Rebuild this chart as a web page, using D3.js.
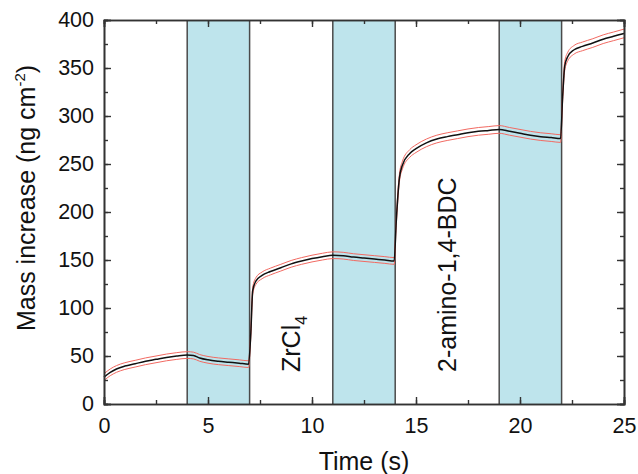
<!DOCTYPE html>
<html>
<head>
<meta charset="utf-8">
<script src="https://cdn.jsdelivr.net/npm/d3@7"></script>
<style>
  body { margin: 0; background: #fff; }
  text { font-family: "Liberation Sans", Arial, sans-serif; fill: #111; }
</style>
</head>
<body>
<div id="chart"></div>
<script>
// time (s) and mass (ng cm-2)
var time = [0, 0.3, 0.6, 1, 1.5, 2, 2.5, 3, 3.5, 4, 4.3, 4.6, 5, 5.5, 6, 6.5, 6.95,
  7.05, 7.15, 7.3, 7.6, 8, 8.5, 9, 9.5, 10, 10.5, 11, 11.5, 12, 12.5, 13, 13.5, 13.95,
  14.05, 14.2, 14.35, 14.7, 15, 15.5, 16, 16.5, 17, 17.5, 18, 18.5, 19, 19.5, 20, 20.5, 21, 21.5, 21.95,
  22.05, 22.15, 22.3, 22.6, 23, 23.5, 24, 24.5, 25];
var mass = [28, 33, 36.5, 39.5, 42, 44.5, 46.5, 48.5, 50, 51, 50.5, 48, 46, 44.5, 43.5, 42.5, 41.5,
  70, 118, 128, 134, 138, 142, 146, 149, 151.5, 153.5, 155, 154.5, 153, 152, 151, 150, 149,
  190, 235, 249, 261, 266, 272, 276, 278.5, 280.5, 282.5, 284, 285, 286, 284, 282, 280, 278.5, 277.5, 276.5,
  320, 352, 362, 369, 372.5, 376, 380, 383, 386];
// spread of the red envelope lines
var spread = [3.5, 3.5, 3.5, 3.5, 3.5, 3.5, 3.5, 3.5, 3.5, 3.5, 3.5, 3.5, 3.5, 3.5, 3.5, 3.5, 3.5,
  3.5, 3.5, 3.5, 3.5, 3.5, 3.5, 3.5, 3.5, 3.5, 3.5, 3.5, 3.5, 3.5, 3.5, 3.5, 3.5, 3.5,
  4, 4, 4, 4, 4, 4, 4, 4, 4, 4, 4, 4, 4, 4, 4, 4, 4, 4, 4,
  4.5, 4.5, 4.5, 4.5, 4.5, 4.5, 4.5, 4.5, 4.5];

// shaded purge intervals
var bandStart = [4, 11, 19];
var bandEnd = [7, 14, 22];

var labels = ["ZrCl", "2-amino-1,4-BDC"];
var labelX = [9.42, 16.9];

var xTicks = [0, 5, 10, 15, 20, 25];
var yTicks = [0, 50, 100, 150, 200, 250, 300, 350, 400];

var width = 638, height = 474;
var margin = {left: 104, right: 14, top: 20, bottom: 70};

var x = d3.scaleLinear().domain([0, 25]).range([margin.left, width - margin.right]);
var y = d3.scaleLinear().domain([0, 400]).range([height - margin.bottom, margin.top]);

var svg = d3.select("#chart").append("svg")
  .attr("width", width)
  .attr("height", height);

// bands
for (var i = 0; i < bandStart.length; i++) {
  svg.append("rect")
    .attr("x", x(bandStart[i]))
    .attr("y", y(400))
    .attr("width", x(bandEnd[i]) - x(bandStart[i]))
    .attr("height", y(0) - y(400))
    .attr("fill", "#bee4ec");
  [bandStart[i], bandEnd[i]].forEach(function(t) {
    svg.append("line")
      .attr("x1", x(t)).attr("x2", x(t))
      .attr("y1", y(0)).attr("y2", y(400))
      .attr("stroke", "#4a4a4a")
      .attr("stroke-width", 1.5);
  });
}

var data = time.map(function(t, i) { return {t: t, m: mass[i], s: spread[i]}; });

var line = d3.line().curve(d3.curveMonotoneX).x(function(d) { return x(d.t); });

svg.append("path")
  .attr("d", line.y(function(d) { return y(d.m + d.s); })(data))
  .attr("fill", "none").attr("stroke", "#f26a62").attr("stroke-width", 1);
svg.append("path")
  .attr("d", line.y(function(d) { return y(d.m - d.s); })(data))
  .attr("fill", "none").attr("stroke", "#f26a62").attr("stroke-width", 1);
svg.append("path")
  .attr("d", line.y(function(d) { return y(d.m); })(data))
  .attr("fill", "none").attr("stroke", "#111").attr("stroke-width", 1.5);

// axes, ticks pointing inward
function minor(a, b, step) { return d3.range(a, b + step / 2, step); }

svg.append("g").attr("transform", "translate(0," + y(0) + ")")
  .call(d3.axisBottom(x).tickValues(minor(0, 25, 2.5)).tickSize(-4).tickFormat(""));
svg.append("g").attr("transform", "translate(0," + y(0) + ")")
  .call(d3.axisBottom(x).tickValues(xTicks).tickSize(-7).tickPadding(14).tickFormat(d3.format("d")));
svg.append("g").attr("transform", "translate(0," + y(400) + ")")
  .call(d3.axisTop(x).tickValues(minor(0, 25, 2.5)).tickSize(-4).tickFormat(""));
svg.append("g").attr("transform", "translate(0," + y(400) + ")")
  .call(d3.axisTop(x).tickValues(xTicks).tickSize(-7).tickFormat(""));
svg.append("g").attr("transform", "translate(" + x(0) + ",0)")
  .call(d3.axisLeft(y).tickValues(minor(0, 400, 25)).tickSize(-4).tickFormat(""));
svg.append("g").attr("transform", "translate(" + x(0) + ",0)")
  .call(d3.axisLeft(y).tickValues(yTicks).tickSize(-7).tickPadding(10).tickFormat(d3.format("d")));
svg.append("g").attr("transform", "translate(" + x(25) + ",0)")
  .call(d3.axisRight(y).tickValues(minor(0, 400, 25)).tickSize(-4).tickFormat(""));
svg.append("g").attr("transform", "translate(" + x(25) + ",0)")
  .call(d3.axisRight(y).tickValues(yTicks).tickSize(-7).tickFormat(""));

svg.selectAll(".domain").attr("stroke", "#333").attr("stroke-width", 1.6);
svg.selectAll(".tick line").attr("stroke", "#333").attr("stroke-width", 1.4);
svg.selectAll(".tick text").style("font-size", "21.5px").attr("fill", "#111")
  .style("font-family", "'Liberation Sans', Arial, sans-serif");

// axis titles
svg.append("text")
  .attr("x", x(12.5)).attr("y", 470)
  .attr("text-anchor", "middle")
  .style("font-size", "25px")
  .text("Time (s)");

var yt = svg.append("text")
  .attr("transform", "translate(35,198) rotate(-90)")
  .attr("text-anchor", "middle")
  .style("font-size", "25px");
yt.append("tspan").text("Mass increase (ng cm");
yt.append("tspan").attr("dy", -10).style("font-size", "15px").text("-2");
yt.append("tspan").attr("dy", 10).text(")");

// precursor labels
var z = svg.append("text")
  .attr("transform", "translate(" + x(labelX[0]) + ",372) rotate(-90)")
  .style("font-size", "25px");
z.append("tspan").text(labels[0]);
z.append("tspan").attr("dy", 7).style("font-size", "16px").text("4");

svg.append("text")
  .attr("transform", "translate(" + x(labelX[1]) + ",372) rotate(-90)")
  .style("font-size", "25px")
  .text(labels[1]);
</script>
</body>
</html>
